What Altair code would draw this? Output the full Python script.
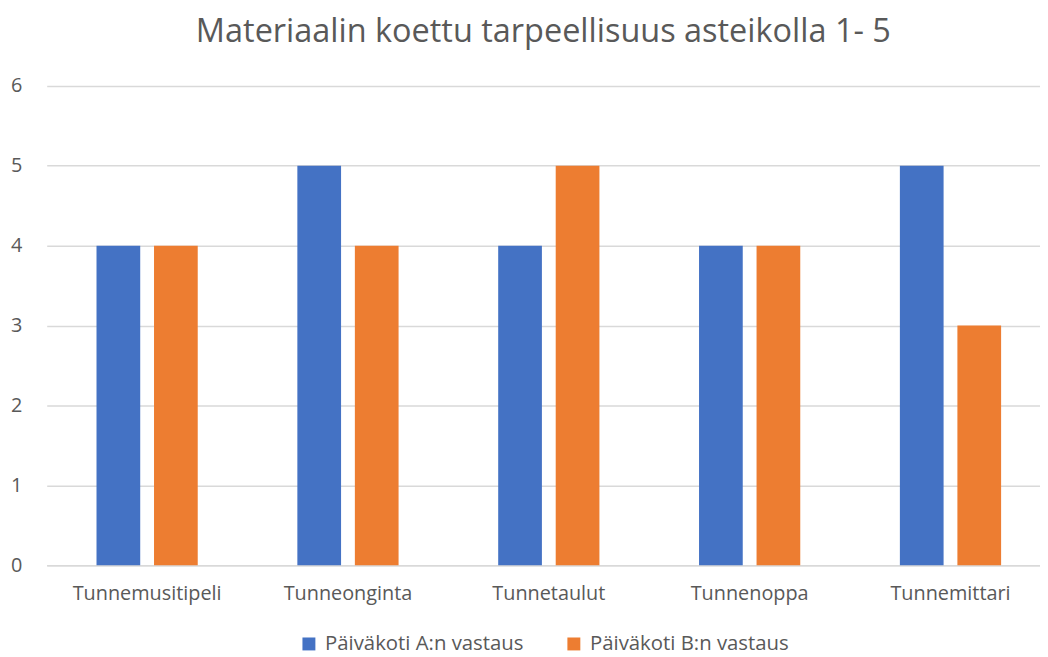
import altair as alt
import pandas as pd

categories = ["Tunnemusitipeli", "Tunneonginta", "Tunnetaulut", "Tunnenoppa", "Tunnemittari"]
series_a = [4, 5, 4, 4, 5]
series_b = [4, 4, 5, 4, 3]
series_names = ["Päiväkoti A:n vastaus", "Päiväkoti B:n vastaus"]
colors = ["#4472C4", "#ED7D31"]

rows = []
for c, a, b in zip(categories, series_a, series_b):
    rows.append({"cat": c, "series": series_names[0], "value": a})
    rows.append({"cat": c, "series": series_names[1], "value": b})
df = pd.DataFrame(rows)

font = "Open Sans"
gray = "#595959"

chart = alt.Chart(df).mark_bar().encode(
    x=alt.X("cat:N", sort=categories, title=None,
            scale=alt.Scale(paddingInner=0.496, paddingOuter=0.248, range=[0, 1012]),
            axis=alt.Axis(labelAngle=0, ticks=False, domainColor="#D9D9D9", domainWidth=1.5,
                          labelFontSize=20, labelColor=gray, labelFont=font, labelPadding=19)),
    xOffset=alt.XOffset("series:N", sort=series_names,
                        scale=alt.Scale(paddingInner=0.24, paddingOuter=0)),
    y=alt.Y("value:Q", title=None,
            scale=alt.Scale(domain=[0, 6]),
            axis=alt.Axis(values=[0, 1, 2, 3, 4, 5, 6], ticks=False, domain=False,
                          gridColor="#D9D9D9", gridWidth=1.5,
                          labelFontSize=20, labelColor=gray, labelFont=font, labelPadding=25)),
    color=alt.Color("series:N", sort=series_names,
                    scale=alt.Scale(domain=series_names, range=colors),
                    legend=alt.Legend(title=None, orient="none", direction="horizontal",
                                      legendX=254, legendY=552,
                                      symbolType="square", symbolSize=170, symbolStrokeWidth=0,
                                      symbolOffset=0, labelOffset=6, labelLimit=400,
                                      labelFontSize=20.5, labelColor=gray, labelFont=font,
                                      columnPadding=40)),
).properties(
    width=1001,
    height=483,
    padding={"left": 39, "top": 76, "right": 0, "bottom": 90},
    autosize=alt.AutoSizeParams(type="none"),
    title=alt.Title("Materiaalin koettu tarpeellisuus asteikolla 1- 5",
                    fontSize=32.7, font=font, fontWeight="normal", color=gray,
                    anchor="middle", offset=28),
).configure_view(stroke=None)

chart.save("out.html", embed_options={"renderer": "svg", "actions": False})
